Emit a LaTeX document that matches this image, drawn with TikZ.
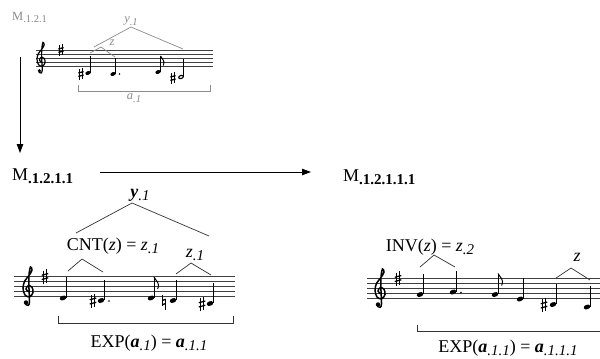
\documentclass[tikz,border=0pt]{standalone}
\usepackage{fontspec}
\setmainfont{Liberation Serif}
\usetikzlibrary{arrows.meta}
\definecolor{tgray}{gray}{0.55}
\newcommand\lsub[1]{\raisebox{-3.5bp}{\fontsize{15bp}{15bp}\selectfont #1}}
\newcommand\gsub[1]{\raisebox{-2.5bp}{\fontsize{10.5bp}{10.5bp}\selectfont #1}}
\newcommand\nhead[3]{\fill[rotate around={20:(#2,#3)}] (#2,#3) ellipse ({0.68*#1} and {0.46*#1});}
\newcommand\ohead[3]{\draw[line width=1.1bp,fill=white,rotate around={20:(#2,#3)}] (#2,#3) ellipse ({0.6*#1} and {0.38*#1});}
\newcommand\nstem[4]{\draw[stemline] ({#2+0.62*#1},{#3-0.1*#1}) -- ({#2+0.62*#1},{#3-#4});}
\newcommand\qn[4]{\nhead{#1}{#2}{#3}\nstem{#1}{#2}{#3}{#4}}
\newcommand\nflag[4]{\draw[line width=1bp] ({#2+0.62*#1},{#3-#4}) .. controls ({#2+0.62*#1+0.3*#1},{#3-#4+0.8*#1}) and ({#2+0.62*#1+1.3*#1},{#3-#4+1.1*#1}) .. ({#2+0.62*#1+0.7*#1},{#3-#4+2.4*#1});}
\newcommand\ndot[2]{\fill (#1,#2) circle (0.9);}
\tikzset{
  staffline/.style={line width=0.6bp, black!75},
  stemline/.style={line width=0.8bp},
  brk/.style={line width=0.7bp, black!80},
  gbrk/.style={line width=0.7bp, tgray},
  big/.style={font=\fontsize{18bp}{21bp}\selectfont, inner sep=0pt},
  small/.style={font=\fontsize{12.5bp}{14bp}\selectfont, inner sep=0pt, text=tgray},
  arr/.style={line width=0.8bp, -{Triangle[length=9bp,width=6.5bp]}},
  clefline/.style={line width=1.5bp},
  gclef/.pic={
    \fill (-0.4,1.2) circle (0.45);
    \draw[clefline, line cap=round] plot[smooth, tension=0.6] coordinates {(-0.5,1.55) (0.05,1.75) (0.3,1.1) (0.25,-0.5) (0.15,-3.0) (0.25,-4.8) (0.5,-5.9) (0.8,-5.3) (0.2,-4.2) (-0.65,-3.1) (-1.0,-1.7) (-0.6,-0.3) (0.35,0.05) (1.0,-0.8) (0.8,-1.85) (0.05,-2.15) (-0.4,-1.5) (0.05,-1.0)};
  },
  sharpsign/.pic={
    \draw[line width=0.6bp] (-0.33,-1.2) -- (-0.33,1.45) (0.33,-1.45) -- (0.33,1.2);
    \draw[line width=1.3bp] (-0.65,-0.25) -- (0.65,-0.6) (-0.65,0.6) -- (0.65,0.25);
  },
  naturalsign/.pic={
    \draw[line width=0.6bp] (-0.3,-1.5) -- (-0.3,0.7) (0.3,-0.7) -- (0.3,1.5);
    \draw[line width=1.3bp] (-0.3,-0.3) -- (0.3,-0.55) (-0.3,0.55) -- (0.3,0.3);
  },
}
\begin{document}
\begin{tikzpicture}[x=1bp,y=-1bp]
\useasboundingbox[fill=white] (0,0) rectangle (600,358);

% ---------- top (gray) excerpt ----------
\node[small, anchor=base west] (m121) at (12,20) {M\gsub{.1.2.1}};
\foreach \yy in {50,54,58,62,66} \draw[staffline] (36,\yy) -- (213,\yy);
\pic[scale=4, clefline/.style={line width=1.2bp}] at (41,66) {gclef};
\pic[scale=4] at (61,50) {sharpsign};
\pic[scale=4] at (81,74) {sharpsign};
\qn{4}{88}{73}{17}
\qn{4}{113}{74}{16}
\ndot{119.5}{74}
\qn{4}{158}{72}{16}
\nflag{4}{158}{72}{16}
\pic[scale=4] at (173,78) {sharpsign};
\ohead{4}{181}{77}
\nstem{4}{181}{77}{18}
\draw[gbrk] (94,47) -- (131,27) -- (183,49);
\draw[gbrk] (90,53) -- (101,47) -- (115,57);
\draw[gbrk] (78,85) -- (78,91) -- (210,91) -- (210,85);
\node[small, font=\fontsize{12.5bp}{14bp}\selectfont\itshape] (ty) at (131,21) {y\gsub{.1}};
\node[small, font=\fontsize{12.5bp}{14bp}\selectfont\itshape] (tz) at (112,43) {z};
\node[small, font=\fontsize{12.5bp}{14bp}\selectfont\itshape] (ta) at (134,98) {a\gsub{.1}};

% ---------- arrows ----------
\coordinate (v1) at (20,57);
\coordinate (v2) at (20,153);
\draw[arr] (v1) -- (v2);
\coordinate (h1) at (100,172);
\coordinate (h2) at (311,172);
\draw[arr] (h1) -- (h2);

% ---------- headings ----------
\node[big, anchor=base west] (m1211) at (12,180) {M\lsub{\textbf{.1.2.1.1}}};
\node[big, anchor=base west] (m12111) at (343,181) {M\lsub{\textbf{.1.2.1.1.1}}};

% ---------- lower-left excerpt ----------
\foreach \yy in {276.5,281.5,286.5,291.5,296.5} \draw[staffline] (14,\yy) -- (235,\yy);
\pic[scale=5] at (28,296.5) {gclef};
\pic[scale=5] at (45,276.5) {sharpsign};
\qn{5}{63}{298}{21}
\pic[scale=5] at (93,301) {sharpsign};
\qn{5}{101}{300.5}{21}
\ndot{109}{301}
\qn{5}{151}{298}{21}
\nflag{5}{151}{298}{21}
\pic[scale=5] at (164,302) {naturalsign};
\qn{5}{173}{300.5}{21}
\pic[scale=5] at (202,304) {sharpsign};
\qn{5}{210}{303.5}{21}
\draw[brk] (76,233) -- (132,203) -- (209,236);
\draw[brk] (68,271) -- (82,259) -- (103,272);
\draw[brk] (176,274) -- (191,263) -- (211,275);
\draw[brk] (58,316) -- (58,323) -- (233,323) -- (233,316);
\node[big] (ly) at (140,195) {\textbf{\textit{y}}\lsub{\textit{.1}}};
\node[big] (lcnt) at (113,246) {CNT(\textit{z}) = \textit{z}\lsub{\textit{.1}}};
\node[big] (lz) at (195,255) {\textit{z}\lsub{\textit{.1}}};
\node[big] (lexp) at (149,343) {EXP(\textbf{\textit{a}}\lsub{\textit{.1}}) = \textbf{\textit{a}}\lsub{\textit{.1.1}}};

% ---------- lower-right excerpt ----------
\foreach \yy in {278.5,283.5,288.5,293.5,298.5} \draw[staffline] (367,\yy) -- (600,\yy);
\pic[scale=5] at (380,298.5) {gclef};
\pic[scale=5] at (398,278.5) {sharpsign};
\qn{5}{420}{294.5}{21}
\qn{5}{453}{292}{21}
\ndot{461}{292.5}
\qn{5}{495}{294.5}{21}
\nflag{5}{495}{294.5}{21}
\qn{5}{520}{299}{21}
\pic[scale=5] at (544,305) {sharpsign};
\qn{5}{553}{304.5}{21}
\qn{5}{587}{307}{21}
\draw[brk] (420,267) -- (434,255) -- (455,267);
\draw[brk] (556,278) -- (571,268) -- (590,280);
\draw[brk] (417,325) -- (417,331) -- (600,331);
\node[big] (rinv) at (430,247) {INV(\textit{z}) = \textit{z}\lsub{\textit{.2}}};
\node[big] (rz) at (577,257) {\textit{z}};
\node[big] (rexp) at (508,348) {EXP(\textbf{\textit{a}}\lsub{\textit{.1.1}}) = \textbf{\textit{a}}\lsub{\textit{.1.1.1}}};
\end{tikzpicture}
\end{document}
